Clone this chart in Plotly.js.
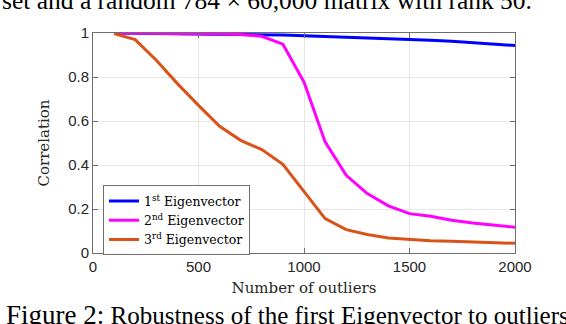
<!DOCTYPE html>
<html>
<head>
<meta charset="utf-8">
<script src="https://cdn.plot.ly/plotly-3.0.1.min.js"></script>
<style>
  html, body { margin: 0; padding: 0; background: #fff; }
  #chart { width: 566px; height: 324px; }
</style>
</head>
<body>
<div id="chart"></div>
<script>
// data
const outliers = [100, 200, 300, 400, 500, 600, 700, 800, 900, 1000,
                  1100, 1200, 1300, 1400, 1500, 1600, 1700, 1800, 1900, 2000];
const eig1 = [1.0, 0.999, 0.998, 0.998, 0.997, 0.996, 0.995, 0.993, 0.991, 0.988,
              0.985, 0.982, 0.978, 0.975, 0.971, 0.967, 0.962, 0.956, 0.950, 0.943];
const eig2 = [1.0, 1.0, 0.999, 0.998, 0.997, 0.995, 0.993, 0.985, 0.949, 0.777,
              0.505, 0.353, 0.270, 0.214, 0.179, 0.167, 0.149, 0.136, 0.126, 0.117];
const eig3 = [0.997, 0.970, 0.876, 0.770, 0.671, 0.576, 0.512, 0.470, 0.403, 0.277,
              0.156, 0.106, 0.084, 0.068, 0.061, 0.056, 0.053, 0.050, 0.047, 0.044];
const names = ['1<sup>st</sup> Eigenvector', '2<sup>nd</sup> Eigenvector', '3<sup>rd</sup> Eigenvector'];
const colors = ['#0000ff', '#ff00ff', '#d95319'];
const xTicks = [0, 500, 1000, 1500, 2000];
const yTicks = [0, 0.2, 0.4, 0.6, 0.8, 1];

const times = 'Liberation Serif, Times New Roman, serif';
const cm = 'DejaVu Serif, serif';   // closest to the LaTeX labels
const sans = 'Liberation Sans, Arial, sans-serif';

const data = [eig1, eig2, eig3].map((ys, i) => ({
  x: outliers, y: ys, name: names[i], type: 'scatter', mode: 'lines',
  line: {color: colors[i], width: 3}
}));

// pixel helpers for the text outside the plot
const L = 92.7, R = 515, T = 32.7, B = 252.7;
const px = x => (x - L) / (R - L);
const py = y => (B - y) / (B - T);

const axisCommon = {
  showline: true, mirror: 'ticks', linecolor: '#6e6e6e', linewidth: 1,
  ticks: 'inside', ticklen: 5, tickcolor: '#6e6e6e',
  showgrid: true, gridcolor: '#e6e6e6', gridwidth: 1, zeroline: false,
  tickfont: {family: sans, size: 15, color: '#262626'}
};

const layout = {
  width: 566, height: 324,
  margin: {l: L, r: 566 - R, t: T, b: 324 - B},
  paper_bgcolor: '#fff', plot_bgcolor: '#fff',
  showlegend: true,
  legend: {
    x: px(102.7), y: py(185), xanchor: 'left', yanchor: 'top',
    bgcolor: '#fff', bordercolor: '#6e6e6e', borderwidth: 1,
    font: {family: cm, size: 12.5, color: '#000'},
    tracegroupgap: 0, itemwidth: 30
  },
  xaxis: Object.assign({}, axisCommon, {
    range: [0, 2000], tickvals: xTicks, ticktext: xTicks.map(String),
    title: {text: 'Number of outliers', font: {family: cm, size: 15, color: '#262626'}, standoff: 8}
  }),
  yaxis: Object.assign({}, axisCommon, {
    range: [0, 1], tickvals: yTicks, ticktext: yTicks.map(String),
    title: {text: 'Correlation', font: {family: cm, size: 15, color: '#262626'}, standoff: 14}
  }),
  annotations: [
    {text: 'set and a random 784 × 60,000 matrix with rank 50.', xref: 'paper', yref: 'paper',
     x: px(0), y: py(17), xanchor: 'left', yanchor: 'bottom', showarrow: false,
     font: {family: times, size: 25.5, color: '#000'}},
    {text: '<span style="font-size:27px">Figure 2:</span> Robustness of the first Eigenvector to outliers',
     xref: 'paper', yref: 'paper', x: px(4), y: py(298), xanchor: 'left', yanchor: 'top',
     showarrow: false, font: {family: times, size: 25, color: '#000'}}
  ]
};

Plotly.newPlot('chart', data, layout, {displayModeBar: false, staticPlot: true});
</script>
</body>
</html>
